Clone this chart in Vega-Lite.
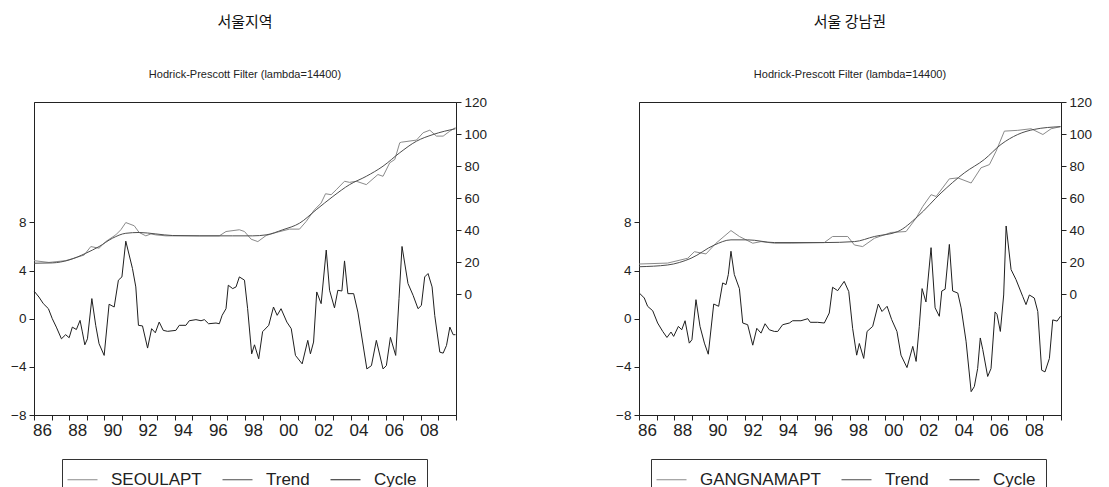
{
  "$schema": "https://vega.github.io/schema/vega-lite/v6.json",
  "background": "white",
  "padding": {"left": 3, "top": 14, "right": 0, "bottom": 0},
  "spacing": 120,
  "config": {
    "font": "Liberation Sans",
    "view": {"stroke": "#222", "strokeWidth": 1},
    "axis": {"grid": false, "labelFont": "Liberation Sans", "labelFontSize": 13.5, "labelColor": "#222", "domainColor": "#222", "tickColor": "#222", "tickSize": 5, "labelPadding": 3},
    "axisX": {"labelFontSize": 17, "labelOverlap": false, "labelFlush": false, "labelOffset": 8, "labelPadding": 2},
    "title": {"anchor": "middle", "frame": "group", "font": "Noto Sans CJK KR", "fontSize": 15, "fontWeight": "normal", "color": "#111", "subtitleFont": "Liberation Sans", "subtitleFontSize": 11, "subtitleColor": "#222", "subtitlePadding": 39, "offset": 15},
    "legend": {"strokeColor": "#333", "padding": 10, "symbolType": "M-1.5,0L1.5,0", "symbolStrokeWidth": 1, "symbolSize": 400, "labelFontSize": 17, "labelFont": "Liberation Sans", "labelColor": "#222", "columnPadding": 18, "labelOffset": 18}
  },
  "resolve": {"scale": {"x": "independent", "y": "independent", "color": "independent"}, "legend": {"color": "independent"}},
  "datasets": {
    "seoulCycle": [
      {"t":1986.00,"v":2.3,"s":"Cycle"},{"t":1986.28,"v":1.8,"s":"Cycle"},{"t":1986.53,"v":1.25,"s":"Cycle"},{"t":1986.82,"v":0.83,"s":"Cycle"},{"t":1987.04,"v":0.0,"s":"Cycle"},{"t":1987.27,"v":-0.7,"s":"Cycle"},{"t":1987.56,"v":-1.67,"s":"Cycle"},{"t":1987.80,"v":-1.33,"s":"Cycle"},{"t":1988.00,"v":-1.58,"s":"Cycle"},{"t":1988.18,"v":-0.7,"s":"Cycle"},{"t":1988.41,"v":-0.9,"s":"Cycle"},{"t":1988.62,"v":-0.14,"s":"Cycle"},{"t":1988.75,"v":-1.1,"s":"Cycle"},{"t":1988.89,"v":-2.17,"s":"Cycle"},{"t":1989.04,"v":-1.67,"s":"Cycle"},{"t":1989.29,"v":1.67,"s":"Cycle"},{"t":1989.51,"v":-0.55,"s":"Cycle"},{"t":1989.70,"v":-2.08,"s":"Cycle"},{"t":1989.99,"v":-3.05,"s":"Cycle"},{"t":1990.27,"v":1.2,"s":"Cycle"},{"t":1990.56,"v":0.97,"s":"Cycle"},{"t":1990.80,"v":3.2,"s":"Cycle"},{"t":1991.00,"v":3.47,"s":"Cycle"},{"t":1991.22,"v":6.44,"s":"Cycle"},{"t":1991.60,"v":4.17,"s":"Cycle"},{"t":1991.79,"v":2.64,"s":"Cycle"},{"t":1991.94,"v":-0.55,"s":"Cycle"},{"t":1992.17,"v":-0.6,"s":"Cycle"},{"t":1992.46,"v":-2.44,"s":"Cycle"},{"t":1992.69,"v":-0.83,"s":"Cycle"},{"t":1992.90,"v":-1.17,"s":"Cycle"},{"t":1993.12,"v":-0.28,"s":"Cycle"},{"t":1993.35,"v":-0.97,"s":"Cycle"},{"t":1993.60,"v":-1.05,"s":"Cycle"},{"t":1994.07,"v":-0.97,"s":"Cycle"},{"t":1994.26,"v":-0.55,"s":"Cycle"},{"t":1994.64,"v":-0.55,"s":"Cycle"},{"t":1994.83,"v":-0.17,"s":"Cycle"},{"t":1995.21,"v":-0.08,"s":"Cycle"},{"t":1995.50,"v":-0.17,"s":"Cycle"},{"t":1995.69,"v":-0.08,"s":"Cycle"},{"t":1995.93,"v":-0.42,"s":"Cycle"},{"t":1996.35,"v":-0.36,"s":"Cycle"},{"t":1996.54,"v":-0.42,"s":"Cycle"},{"t":1996.70,"v":0.28,"s":"Cycle"},{"t":1996.92,"v":0.83,"s":"Cycle"},{"t":1997.05,"v":2.78,"s":"Cycle"},{"t":1997.30,"v":2.5,"s":"Cycle"},{"t":1997.49,"v":2.64,"s":"Cycle"},{"t":1997.68,"v":3.47,"s":"Cycle"},{"t":1997.97,"v":3.2,"s":"Cycle"},{"t":1998.15,"v":0.83,"s":"Cycle"},{"t":1998.38,"v":-2.92,"s":"Cycle"},{"t":1998.54,"v":-2.17,"s":"Cycle"},{"t":1998.78,"v":-3.33,"s":"Cycle"},{"t":1999.00,"v":-1.08,"s":"Cycle"},{"t":1999.35,"v":-0.55,"s":"Cycle"},{"t":1999.62,"v":0.97,"s":"Cycle"},{"t":1999.83,"v":0.28,"s":"Cycle"},{"t":2000.05,"v":0.83,"s":"Cycle"},{"t":2000.38,"v":-0.28,"s":"Cycle"},{"t":2000.63,"v":-0.83,"s":"Cycle"},{"t":2000.87,"v":-3.05,"s":"Cycle"},{"t":2001.25,"v":-3.75,"s":"Cycle"},{"t":2001.57,"v":-1.8,"s":"Cycle"},{"t":2001.72,"v":-2.92,"s":"Cycle"},{"t":2001.90,"v":-1.94,"s":"Cycle"},{"t":2002.08,"v":2.22,"s":"Cycle"},{"t":2002.33,"v":1.25,"s":"Cycle"},{"t":2002.62,"v":5.7,"s":"Cycle"},{"t":2002.81,"v":2.36,"s":"Cycle"},{"t":2003.09,"v":0.9,"s":"Cycle"},{"t":2003.28,"v":2.36,"s":"Cycle"},{"t":2003.51,"v":2.3,"s":"Cycle"},{"t":2003.66,"v":4.8,"s":"Cycle"},{"t":2003.85,"v":2.08,"s":"Cycle"},{"t":2004.18,"v":2.08,"s":"Cycle"},{"t":2004.42,"v":0.55,"s":"Cycle"},{"t":2004.93,"v":-4.17,"s":"Cycle"},{"t":2005.19,"v":-3.9,"s":"Cycle"},{"t":2005.47,"v":-1.8,"s":"Cycle"},{"t":2005.85,"v":-4.17,"s":"Cycle"},{"t":2006.04,"v":-3.9,"s":"Cycle"},{"t":2006.27,"v":-1.55,"s":"Cycle"},{"t":2006.57,"v":-3.05,"s":"Cycle"},{"t":2006.76,"v":1.67,"s":"Cycle"},{"t":2006.93,"v":6.0,"s":"Cycle"},{"t":2007.27,"v":2.92,"s":"Cycle"},{"t":2007.56,"v":1.94,"s":"Cycle"},{"t":2007.84,"v":0.83,"s":"Cycle"},{"t":2008.03,"v":1.1,"s":"Cycle"},{"t":2008.22,"v":3.47,"s":"Cycle"},{"t":2008.41,"v":3.75,"s":"Cycle"},{"t":2008.64,"v":2.64,"s":"Cycle"},{"t":2008.79,"v":0.28,"s":"Cycle"},{"t":2009.08,"v":-2.78,"s":"Cycle"},{"t":2009.27,"v":-2.86,"s":"Cycle"},{"t":2009.46,"v":-2.22,"s":"Cycle"},{"t":2009.65,"v":-0.7,"s":"Cycle"},{"t":2009.84,"v":-1.33,"s":"Cycle"},{"t":2009.97,"v":-1.33,"s":"Cycle"}
    ],
    "seoulSeries": [
      {"t":1986.00,"v":20.9,"s":"SEOULAPT"},{"t":1986.85,"v":19.8,"s":"SEOULAPT"},{"t":1987.80,"v":20.9,"s":"SEOULAPT"},{"t":1988.56,"v":23.4,"s":"SEOULAPT"},{"t":1988.85,"v":24.4,"s":"SEOULAPT"},{"t":1989.23,"v":29.7,"s":"SEOULAPT"},{"t":1989.70,"v":28.7,"s":"SEOULAPT"},{"t":1990.08,"v":32.8,"s":"SEOULAPT"},{"t":1990.65,"v":37.0,"s":"SEOULAPT"},{"t":1990.94,"v":40.2,"s":"SEOULAPT"},{"t":1991.22,"v":44.7,"s":"SEOULAPT"},{"t":1991.70,"v":42.7,"s":"SEOULAPT"},{"t":1991.98,"v":38.5,"s":"SEOULAPT"},{"t":1992.36,"v":36.4,"s":"SEOULAPT"},{"t":1992.65,"v":37.6,"s":"SEOULAPT"},{"t":1992.93,"v":37.0,"s":"SEOULAPT"},{"t":1993.50,"v":36.4,"s":"SEOULAPT"},{"t":1996.54,"v":36.4,"s":"SEOULAPT"},{"t":1996.92,"v":39.1,"s":"SEOULAPT"},{"t":1997.68,"v":40.2,"s":"SEOULAPT"},{"t":1997.97,"v":39.1,"s":"SEOULAPT"},{"t":1998.35,"v":34.3,"s":"SEOULAPT"},{"t":1998.73,"v":32.8,"s":"SEOULAPT"},{"t":1999.20,"v":36.6,"s":"SEOULAPT"},{"t":1999.77,"v":38.5,"s":"SEOULAPT"},{"t":2000.53,"v":40.6,"s":"SEOULAPT"},{"t":2001.10,"v":40.6,"s":"SEOULAPT"},{"t":2001.48,"v":45.4,"s":"SEOULAPT"},{"t":2001.95,"v":52.7,"s":"SEOULAPT"},{"t":2002.33,"v":56.9,"s":"SEOULAPT"},{"t":2002.58,"v":62.7,"s":"SEOULAPT"},{"t":2002.90,"v":62.1,"s":"SEOULAPT"},{"t":2003.19,"v":65.2,"s":"SEOULAPT"},{"t":2003.66,"v":70.5,"s":"SEOULAPT"},{"t":2003.95,"v":69.8,"s":"SEOULAPT"},{"t":2004.33,"v":70.5,"s":"SEOULAPT"},{"t":2004.90,"v":68.4,"s":"SEOULAPT"},{"t":2005.56,"v":74.7,"s":"SEOULAPT"},{"t":2005.85,"v":73.6,"s":"SEOULAPT"},{"t":2006.23,"v":82.0,"s":"SEOULAPT"},{"t":2006.52,"v":84.1,"s":"SEOULAPT"},{"t":2006.80,"v":94.5,"s":"SEOULAPT"},{"t":2006.90,"v":94.9,"s":"SEOULAPT"},{"t":2007.75,"v":96.2,"s":"SEOULAPT"},{"t":2008.13,"v":100.8,"s":"SEOULAPT"},{"t":2008.51,"v":102.4,"s":"SEOULAPT"},{"t":2008.89,"v":98.7,"s":"SEOULAPT"},{"t":2009.27,"v":98.7,"s":"SEOULAPT"},{"t":2009.65,"v":101.8,"s":"SEOULAPT"},{"t":2009.97,"v":104.0,"s":"SEOULAPT"}
    ],
    "seoulTrend": [
      {"t":1986.00,"v":19.3,"s":"Trend"},{"t":1987.04,"v":19.5,"s":"Trend"},{"t":1987.99,"v":21.3,"s":"Trend"},{"t":1988.94,"v":25.5,"s":"Trend"},{"t":1989.70,"v":29.7,"s":"Trend"},{"t":1990.46,"v":34.9,"s":"Trend"},{"t":1991.22,"v":38.0,"s":"Trend"},{"t":1991.98,"v":38.5,"s":"Trend"},{"t":1992.93,"v":37.6,"s":"Trend"},{"t":1993.88,"v":36.6,"s":"Trend"},{"t":1995.40,"v":36.4,"s":"Trend"},{"t":1997.30,"v":36.4,"s":"Trend"},{"t":1998.44,"v":36.4,"s":"Trend"},{"t":1999.20,"v":37.0,"s":"Trend"},{"t":2000.15,"v":40.2,"s":"Trend"},{"t":2001.10,"v":44.3,"s":"Trend"},{"t":2002.05,"v":52.7,"s":"Trend"},{"t":2003.00,"v":61.0,"s":"Trend"},{"t":2003.95,"v":68.4,"s":"Trend"},{"t":2004.90,"v":73.6,"s":"Trend"},{"t":2005.85,"v":79.9,"s":"Trend"},{"t":2006.80,"v":88.3,"s":"Trend"},{"t":2007.75,"v":95.5,"s":"Trend"},{"t":2008.70,"v":99.7,"s":"Trend"},{"t":2009.97,"v":103.3,"s":"Trend"}
    ],
    "gangCycle": [
      {"t":1986.02,"v":2.13,"s":"Cycle"},{"t":1986.30,"v":1.72,"s":"Cycle"},{"t":1986.49,"v":1.03,"s":"Cycle"},{"t":1986.78,"v":0.66,"s":"Cycle"},{"t":1987.06,"v":-0.36,"s":"Cycle"},{"t":1987.35,"v":-1.06,"s":"Cycle"},{"t":1987.59,"v":-1.56,"s":"Cycle"},{"t":1987.82,"v":-1.11,"s":"Cycle"},{"t":1987.97,"v":-1.47,"s":"Cycle"},{"t":1988.24,"v":-0.64,"s":"Cycle"},{"t":1988.43,"v":-0.92,"s":"Cycle"},{"t":1988.62,"v":-0.17,"s":"Cycle"},{"t":1988.86,"v":-2.03,"s":"Cycle"},{"t":1989.01,"v":-1.75,"s":"Cycle"},{"t":1989.24,"v":1.58,"s":"Cycle"},{"t":1989.47,"v":-0.64,"s":"Cycle"},{"t":1989.72,"v":-2.03,"s":"Cycle"},{"t":1989.94,"v":-2.95,"s":"Cycle"},{"t":1990.25,"v":1.22,"s":"Cycle"},{"t":1990.53,"v":1.03,"s":"Cycle"},{"t":1990.76,"v":2.97,"s":"Cycle"},{"t":1990.95,"v":2.83,"s":"Cycle"},{"t":1991.08,"v":3.67,"s":"Cycle"},{"t":1991.23,"v":5.6,"s":"Cycle"},{"t":1991.42,"v":3.67,"s":"Cycle"},{"t":1991.71,"v":2.5,"s":"Cycle"},{"t":1991.90,"v":-0.36,"s":"Cycle"},{"t":1992.18,"v":-0.5,"s":"Cycle"},{"t":1992.47,"v":-2.2,"s":"Cycle"},{"t":1992.70,"v":-0.8,"s":"Cycle"},{"t":1992.94,"v":-1.2,"s":"Cycle"},{"t":1993.17,"v":-0.42,"s":"Cycle"},{"t":1993.41,"v":-0.92,"s":"Cycle"},{"t":1993.70,"v":-1.06,"s":"Cycle"},{"t":1993.89,"v":-1.06,"s":"Cycle"},{"t":1994.17,"v":-0.5,"s":"Cycle"},{"t":1994.55,"v":-0.36,"s":"Cycle"},{"t":1994.74,"v":-0.17,"s":"Cycle"},{"t":1995.21,"v":-0.17,"s":"Cycle"},{"t":1995.60,"v":0.0,"s":"Cycle"},{"t":1995.74,"v":-0.3,"s":"Cycle"},{"t":1996.16,"v":-0.3,"s":"Cycle"},{"t":1996.54,"v":-0.36,"s":"Cycle"},{"t":1996.82,"v":0.47,"s":"Cycle"},{"t":1997.01,"v":2.61,"s":"Cycle"},{"t":1997.30,"v":2.33,"s":"Cycle"},{"t":1997.67,"v":3.1,"s":"Cycle"},{"t":1997.93,"v":2.25,"s":"Cycle"},{"t":1998.15,"v":-0.8,"s":"Cycle"},{"t":1998.38,"v":-3.03,"s":"Cycle"},{"t":1998.53,"v":-2.06,"s":"Cycle"},{"t":1998.78,"v":-3.3,"s":"Cycle"},{"t":1998.97,"v":-1.06,"s":"Cycle"},{"t":1999.29,"v":-0.64,"s":"Cycle"},{"t":1999.61,"v":1.22,"s":"Cycle"},{"t":1999.82,"v":0.6,"s":"Cycle"},{"t":2000.11,"v":1.03,"s":"Cycle"},{"t":2000.37,"v":-0.08,"s":"Cycle"},{"t":2000.67,"v":-1.06,"s":"Cycle"},{"t":2000.90,"v":-3.03,"s":"Cycle"},{"t":2001.24,"v":-4.06,"s":"Cycle"},{"t":2001.57,"v":-2.3,"s":"Cycle"},{"t":2001.76,"v":-3.55,"s":"Cycle"},{"t":2001.94,"v":-0.64,"s":"Cycle"},{"t":2002.10,"v":2.5,"s":"Cycle"},{"t":2002.32,"v":1.39,"s":"Cycle"},{"t":2002.61,"v":5.9,"s":"Cycle"},{"t":2002.84,"v":0.9,"s":"Cycle"},{"t":2003.08,"v":0.2,"s":"Cycle"},{"t":2003.22,"v":2.3,"s":"Cycle"},{"t":2003.41,"v":2.45,"s":"Cycle"},{"t":2003.65,"v":6.17,"s":"Cycle"},{"t":2003.84,"v":2.3,"s":"Cycle"},{"t":2004.13,"v":2.13,"s":"Cycle"},{"t":2004.32,"v":0.9,"s":"Cycle"},{"t":2004.60,"v":-1.87,"s":"Cycle"},{"t":2004.89,"v":-6.06,"s":"Cycle"},{"t":2005.07,"v":-5.64,"s":"Cycle"},{"t":2005.26,"v":-4.14,"s":"Cycle"},{"t":2005.41,"v":-1.6,"s":"Cycle"},{"t":2005.55,"v":-2.56,"s":"Cycle"},{"t":2005.83,"v":-4.8,"s":"Cycle"},{"t":2006.02,"v":-4.14,"s":"Cycle"},{"t":2006.25,"v":0.56,"s":"Cycle"},{"t":2006.36,"v":0.36,"s":"Cycle"},{"t":2006.55,"v":-1.06,"s":"Cycle"},{"t":2006.74,"v":1.97,"s":"Cycle"},{"t":2006.88,"v":7.7,"s":"Cycle"},{"t":2007.16,"v":4.08,"s":"Cycle"},{"t":2007.44,"v":3.25,"s":"Cycle"},{"t":2007.82,"v":1.86,"s":"Cycle"},{"t":2008.01,"v":1.17,"s":"Cycle"},{"t":2008.20,"v":1.97,"s":"Cycle"},{"t":2008.48,"v":1.72,"s":"Cycle"},{"t":2008.68,"v":0.6,"s":"Cycle"},{"t":2008.90,"v":-4.28,"s":"Cycle"},{"t":2009.09,"v":-4.42,"s":"Cycle"},{"t":2009.34,"v":-3.3,"s":"Cycle"},{"t":2009.53,"v":-0.1,"s":"Cycle"},{"t":2009.78,"v":-0.2,"s":"Cycle"},{"t":2009.97,"v":0.2,"s":"Cycle"}
    ],
    "gangSeries": [
      {"t":1986.00,"v":18.8,"s":"GANGNAMAPT"},{"t":1987.63,"v":19.4,"s":"GANGNAMAPT"},{"t":1988.77,"v":22.4,"s":"GANGNAMAPT"},{"t":1989.15,"v":26.5,"s":"GANGNAMAPT"},{"t":1989.81,"v":25.1,"s":"GANGNAMAPT"},{"t":1990.38,"v":31.8,"s":"GANGNAMAPT"},{"t":1991.23,"v":39.7,"s":"GANGNAMAPT"},{"t":1991.71,"v":36.0,"s":"GANGNAMAPT"},{"t":1992.47,"v":31.8,"s":"GANGNAMAPT"},{"t":1992.94,"v":32.8,"s":"GANGNAMAPT"},{"t":1993.70,"v":31.8,"s":"GANGNAMAPT"},{"t":1994.65,"v":31.8,"s":"GANGNAMAPT"},{"t":1996.54,"v":32.2,"s":"GANGNAMAPT"},{"t":1997.01,"v":36.0,"s":"GANGNAMAPT"},{"t":1997.87,"v":36.0,"s":"GANGNAMAPT"},{"t":1998.25,"v":30.7,"s":"GANGNAMAPT"},{"t":1998.72,"v":29.7,"s":"GANGNAMAPT"},{"t":1999.39,"v":34.9,"s":"GANGNAMAPT"},{"t":2000.34,"v":38.5,"s":"GANGNAMAPT"},{"t":2001.19,"v":39.1,"s":"GANGNAMAPT"},{"t":2001.76,"v":47.5,"s":"GANGNAMAPT"},{"t":2002.14,"v":54.8,"s":"GANGNAMAPT"},{"t":2002.61,"v":62.1,"s":"GANGNAMAPT"},{"t":2002.90,"v":61.0,"s":"GANGNAMAPT"},{"t":2003.65,"v":72.0,"s":"GANGNAMAPT"},{"t":2004.13,"v":72.6,"s":"GANGNAMAPT"},{"t":2004.89,"v":69.4,"s":"GANGNAMAPT"},{"t":2005.45,"v":78.9,"s":"GANGNAMAPT"},{"t":2005.93,"v":80.9,"s":"GANGNAMAPT"},{"t":2006.31,"v":89.3,"s":"GANGNAMAPT"},{"t":2006.78,"v":101.8,"s":"GANGNAMAPT"},{"t":2007.54,"v":102.3,"s":"GANGNAMAPT"},{"t":2008.30,"v":103.3,"s":"GANGNAMAPT"},{"t":2008.97,"v":99.7,"s":"GANGNAMAPT"},{"t":2009.44,"v":103.3,"s":"GANGNAMAPT"},{"t":2009.97,"v":104.6,"s":"GANGNAMAPT"}
    ],
    "gangTrend": [
      {"t":1986.00,"v":17.1,"s":"Trend"},{"t":1987.63,"v":18.2,"s":"Trend"},{"t":1988.96,"v":22.4,"s":"Trend"},{"t":1990.29,"v":30.7,"s":"Trend"},{"t":1991.23,"v":33.9,"s":"Trend"},{"t":1992.18,"v":33.9,"s":"Trend"},{"t":1993.70,"v":32.2,"s":"Trend"},{"t":1996.54,"v":32.2,"s":"Trend"},{"t":1998.25,"v":32.8,"s":"Trend"},{"t":1999.39,"v":36.0,"s":"Trend"},{"t":2000.72,"v":39.1,"s":"Trend"},{"t":2001.85,"v":48.5,"s":"Trend"},{"t":2003.18,"v":63.2,"s":"Trend"},{"t":2004.50,"v":75.7,"s":"Trend"},{"t":2005.64,"v":84.1,"s":"Trend"},{"t":2006.59,"v":93.5,"s":"Trend"},{"t":2007.54,"v":99.7,"s":"Trend"},{"t":2008.48,"v":102.9,"s":"Trend"},{"t":2009.97,"v":104.6,"s":"Trend"}
    ]
  },
  "hconcat": [
    {
      "title": {"text": "서울지역", "subtitle": "Hodrick-Prescott Filter (lambda=14400)"},
      "width": 422, "height": 313,
      "resolve": {"scale": {"y": "independent"}, "axis": {"y": "independent"}},
      "layer": [
        {
          "data": {"name": "seoulCycle"},
          "mark": {"type": "line", "strokeWidth": 1},
          "encoding": {
            "x": {"field": "t", "type": "quantitative", "scale": {"domain": [1986, 2010], "nice": false, "zero": false}, "axis": {"values": [1986,1987,1988,1989,1990,1991,1992,1993,1994,1995,1996,1997,1998,1999,2000,2001,2002,2003,2004,2005,2006,2007,2008,2009,2010], "format": "d", "labelExpr": "datum.value % 2 == 0 && datum.value < 2009 ? substring(datum.label, 2) : ''", "labelOverlap": false, "title": null}},
            "y": {"field": "v", "type": "quantitative", "scale": {"domain": [-8, 18], "nice": false, "zero": false}, "axis": {"orient": "left", "values": [-8, -4, 0, 4, 8], "title": null, "minExtent": 30, "maxExtent": 30}},
            "color": {"field": "s", "type": "nominal", "scale": {"domain": ["SEOULAPT", "Trend", "Cycle"], "range": ["#8a8a8a", "#4d4d4d", "#1f1f1f"]}, "legend": {"orient": "none", "legendX": 28, "legendY": 357, "direction": "horizontal", "title": null}}
          }
        },
        {
          "layer": [
            {
              "data": {"name": "seoulSeries"},
              "mark": {"type": "line", "strokeWidth": 1},
              "encoding": {
                "x": {"field": "t", "type": "quantitative", "axis": {"values": [1986,1987,1988,1989,1990,1991,1992,1993,1994,1995,1996,1997,1998,1999,2000,2001,2002,2003,2004,2005,2006,2007,2008,2009,2010], "format": "d", "labelExpr": "datum.value % 2 == 0 && datum.value < 2009 ? substring(datum.label, 2) : ''", "labelOverlap": false, "title": null}},
                "y": {"field": "v", "type": "quantitative", "scale": {"domain": [-75.5, 120], "nice": false, "zero": false}, "axis": {"orient": "right", "values": [0, 20, 40, 60, 80, 100, 120], "title": null, "minExtent": 30, "maxExtent": 30}},
                "color": {"field": "s", "type": "nominal"}
              }
            },
            {
              "data": {"name": "seoulTrend"},
              "mark": {"type": "line", "strokeWidth": 1, "interpolate": "monotone"},
              "encoding": {
                "x": {"field": "t", "type": "quantitative", "axis": {"values": [1986,1987,1988,1989,1990,1991,1992,1993,1994,1995,1996,1997,1998,1999,2000,2001,2002,2003,2004,2005,2006,2007,2008,2009,2010], "format": "d", "labelExpr": "datum.value % 2 == 0 && datum.value < 2009 ? substring(datum.label, 2) : ''", "labelOverlap": false, "title": null}},
                "y": {"field": "v", "type": "quantitative"},
                "color": {"field": "s", "type": "nominal"}
              }
            }
          ]
        }
      ]
    },
    {
      "title": {"text": "서울 강남권", "subtitle": "Hodrick-Prescott Filter (lambda=14400)"},
      "width": 422, "height": 313,
      "resolve": {"scale": {"y": "independent"}, "axis": {"y": "independent"}},
      "layer": [
        {
          "data": {"name": "gangCycle"},
          "mark": {"type": "line", "strokeWidth": 1},
          "encoding": {
            "x": {"field": "t", "type": "quantitative", "scale": {"domain": [1986, 2010], "nice": false, "zero": false}, "axis": {"values": [1986,1987,1988,1989,1990,1991,1992,1993,1994,1995,1996,1997,1998,1999,2000,2001,2002,2003,2004,2005,2006,2007,2008,2009,2010], "format": "d", "labelExpr": "datum.value % 2 == 0 && datum.value < 2009 ? substring(datum.label, 2) : ''", "labelOverlap": false, "title": null}},
            "y": {"field": "v", "type": "quantitative", "scale": {"domain": [-8, 18], "nice": false, "zero": false}, "axis": {"orient": "left", "values": [-8, -4, 0, 4, 8], "title": null, "minExtent": 30, "maxExtent": 30}},
            "color": {"field": "s", "type": "nominal", "scale": {"domain": ["GANGNAMAPT", "Trend", "Cycle"], "range": ["#8a8a8a", "#4d4d4d", "#1f1f1f"]}, "legend": {"orient": "none", "legendX": 12, "legendY": 357, "direction": "horizontal", "title": null}}
          }
        },
        {
          "layer": [
            {
              "data": {"name": "gangSeries"},
              "mark": {"type": "line", "strokeWidth": 1},
              "encoding": {
                "x": {"field": "t", "type": "quantitative", "axis": {"values": [1986,1987,1988,1989,1990,1991,1992,1993,1994,1995,1996,1997,1998,1999,2000,2001,2002,2003,2004,2005,2006,2007,2008,2009,2010], "format": "d", "labelExpr": "datum.value % 2 == 0 && datum.value < 2009 ? substring(datum.label, 2) : ''", "labelOverlap": false, "title": null}},
                "y": {"field": "v", "type": "quantitative", "scale": {"domain": [-75.5, 120], "nice": false, "zero": false}, "axis": {"orient": "right", "values": [0, 20, 40, 60, 80, 100, 120], "title": null, "minExtent": 30, "maxExtent": 30}},
                "color": {"field": "s", "type": "nominal"}
              }
            },
            {
              "data": {"name": "gangTrend"},
              "mark": {"type": "line", "strokeWidth": 1, "interpolate": "monotone"},
              "encoding": {
                "x": {"field": "t", "type": "quantitative", "axis": {"values": [1986,1987,1988,1989,1990,1991,1992,1993,1994,1995,1996,1997,1998,1999,2000,2001,2002,2003,2004,2005,2006,2007,2008,2009,2010], "format": "d", "labelExpr": "datum.value % 2 == 0 && datum.value < 2009 ? substring(datum.label, 2) : ''", "labelOverlap": false, "title": null}},
                "y": {"field": "v", "type": "quantitative"},
                "color": {"field": "s", "type": "nominal"}
              }
            }
          ]
        }
      ]
    }
  ]
}
